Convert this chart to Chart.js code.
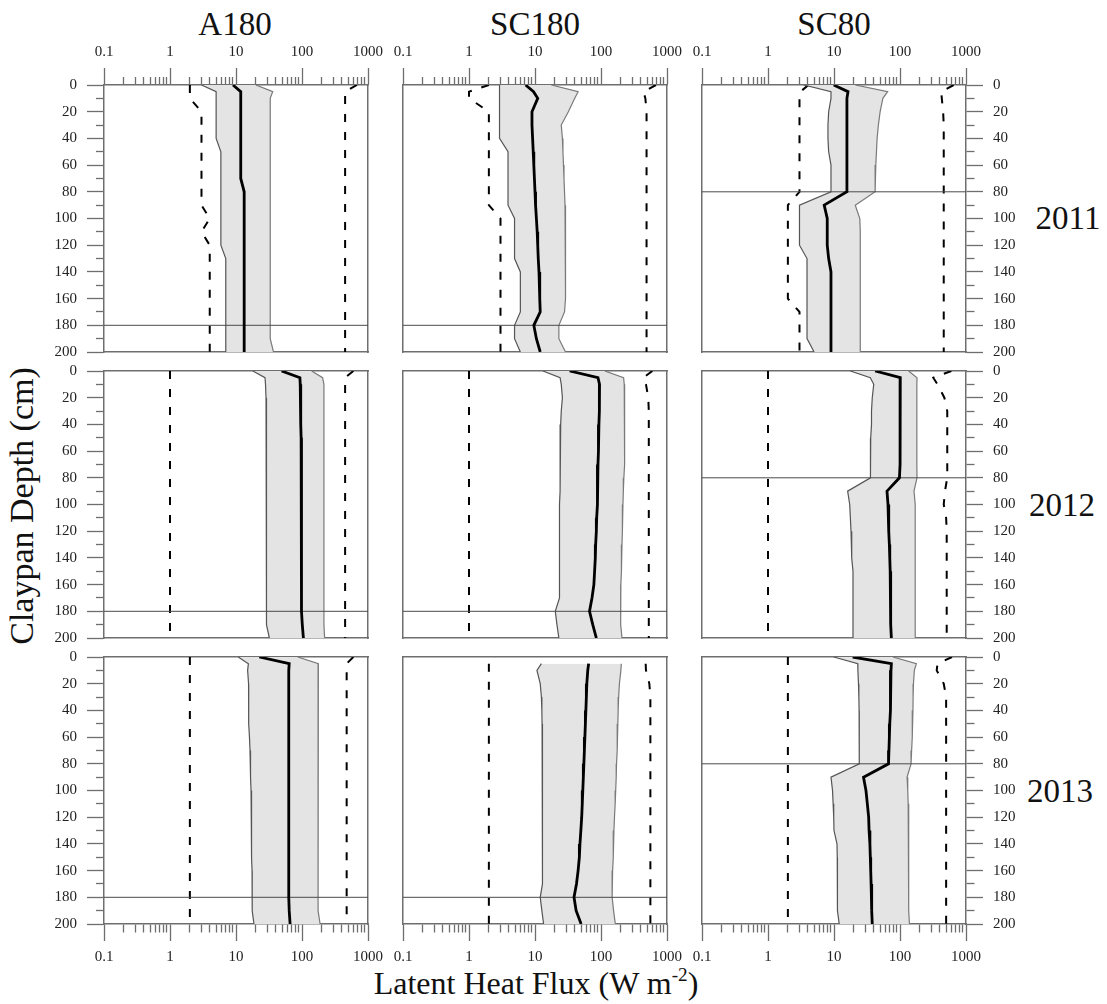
<!DOCTYPE html>
<html>
<head>
<meta charset="utf-8">
<title>Latent heat flux by claypan depth</title>
<script src="https://cdn.jsdelivr.net/npm/chart.js@4.4.1/dist/chart.umd.min.js"></script>
<style>
  body { margin: 0; background: #fff; }
  #wrap { position: relative; width: 1107px; height: 1004px; overflow: hidden; font-family: "Liberation Serif", "Times New Roman", serif; color: #111; }
  #wrap canvas { position: absolute; }
  .lbl { position: absolute; transform: translate(-50%, -50%); line-height: 1; white-space: nowrap; font-size: 33px; }
  .ytitle { transform: translate(-50%, -50%) rotate(-90deg); font-size: 34px; }
  .xtitle { font-size: 32px; }
  .xtitle sup { font-size: 0.6em; vertical-align: 0.7em; line-height: 0; }
</style>
</head>
<body>
<div id="wrap">
  <div class="lbl" style="left:235px;top:24px">A180</div>
  <div class="lbl" style="left:535px;top:24px">SC180</div>
  <div class="lbl" style="left:834px;top:24px">SC80</div>
  <div class="lbl" style="left:1068px;top:218px">2011</div>
  <div class="lbl" style="left:1062px;top:505px">2012</div>
  <div class="lbl" style="left:1060px;top:791px">2013</div>
  <div class="lbl ytitle" style="left:22px;top:506px">Claypan Depth (cm)</div>
  <div class="lbl xtitle" style="left:536px;top:983px">Latent Heat Flux (W m<sup>-2</sup>)</div>
</div>

<script>
// depth levels (cm) shared by every profile
const depths = [0, 5, 10, 20, 30, 40, 50, 60, 70, 80, 90, 100, 110, 120, 130, 140, 150, 160, 170, 180, 190, 200];

// axis ticks
const fluxDecades = [0.1, 1, 10, 100, 1000];
const fluxLabels = ['0.1', '1', '10', '100', '1000'];
const depthTicks = [0, 10, 20, 30, 40, 50, 60, 70, 80, 90, 100, 110, 120, 130, 140, 150, 160, 170, 180, 190, 200];

const sites = ['A180', 'SC180', 'SC80'];
const years = ['2011', '2012', '2013'];
const claypanDepth = [180, 180, 80];

// A180 2011
const a180_11_min = [2, 2, 2, 3, 3, 3, 3, 3, 3, 3, 3, 4, 3, 4, 4, 4, 4, 4, 4, 4, 4, 4];
const a180_11_lo = [3, 5, 5, 5, 5, 5, 5.9, 5.9, 5.9, 5.9, 5.9, 5.9, 5.9, 5.9, 7, 7, 7, 7, 7, 7, 7, 7];
const a180_11_med = [9, 11.8, 11.8, 11.8, 11.8, 11.8, 11.8, 11.8, 11.8, 13.3, 13.3, 13.3, 13.3, 13.3, 13.3, 13.3, 13.3, 13.3, 13.3, 13.3, 13.3, 13.3];
const a180_11_hi = [20, 36, 33, 33, 33, 33, 33, 33, 33, 33, 33, 33, 33, 33, 33, 33, 33, 33, 33, 33, 33, 37];
const a180_11_max = [680, 450, 450, 450, 450, 450, 450, 450, 450, 450, 450, 450, 450, 450, 450, 450, 450, 450, 450, 450, 450, 450];

// SC180 2011
const sc180_11_min = [2, 1, 1, 2, 2, 2, 2, 2, 2, 2, 2, 3, 3, 3, 3, 3, 3, 3, 3, 3, 3, 3];
const sc180_11_lo = [2.9, 2.9, 2.9, 2.9, 2.9, 2.9, 3.9, 3.9, 3.9, 3.9, 3.9, 4.9, 4.9, 4.9, 4.9, 6, 6, 6, 6, 4.9, 4.9, 6];
const sc180_11_med = [7.2, 9.5, 11, 9, 9, 9.2, 9.4, 9.6, 9.8, 10, 10.2, 10.5, 10.8, 11, 11.2, 11.5, 11.7, 11.9, 12, 9.6, 10.5, 12];
const sc180_11_hi = [17.7, 45, 40, 32, 25, 26, 26.5, 27, 27.5, 28, 28.5, 29, 29, 29, 29, 29, 29, 29, 28, 23, 23, 29];
const sc180_11_max = [680, 440, 470, 490, 490, 490, 490, 490, 490, 490, 490, 490, 490, 490, 490, 490, 490, 490, 490, 490, 490, 490];

// SC80 2011
const sc80_11_min = [4.1, 3.1, 3, 3, 3, 3, 3, 3, 3, 3, 2, 2, 2, 2, 2, 2, 2, 2, 3, 3, 3, 3];
const sc80_11_lo = [3.5, 9, 9, 8.3, 8.1, 8.1, 8.3, 9, 9, 9, 3, 3, 3, 3, 3.9, 3.9, 3.9, 3.9, 3.9, 3.9, 3.9, 5];
const sc80_11_med = [9.9, 16.3, 15.7, 15.7, 15.7, 15.7, 15.7, 15.7, 15.7, 15.7, 7.1, 7.9, 7.9, 7.9, 8.3, 9, 9, 9, 9, 9, 9, 9];
const sc80_11_hi = [21, 65, 55, 50, 47, 45, 44, 43, 42, 42, 21, 24.6, 25, 25, 25, 25, 25, 25, 25, 25, 25, 25];
const sc80_11_max = [650, 420, 430, 450, 460, 460, 460, 460, 460, 460, 460, 460, 460, 460, 460, 460, 460, 460, 460, 460, 460, 460];

// A180 2012
const a180_12_min = [1, 1, 1, 1, 1, 1, 1, 1, 1, 1, 1, 1, 1, 1, 1, 1, 1, 1, 1, 1, 1, 1];
const a180_12_lo = [18, 27.5, 28, 28.5, 29, 29, 29, 29, 29, 29, 28.5, 29, 29, 29, 29, 29, 29, 29, 29, 29, 29, 32];
const a180_12_med = [49, 93, 94, 95, 96, 96, 97, 97, 97, 98, 98, 98, 98, 98, 98, 99, 99, 99, 99, 99, 101, 105];
const a180_12_hi = [140, 205, 215, 215, 215, 215, 215, 215, 215, 215, 215, 215, 215, 215, 215, 215, 215, 215, 215, 215, 215, 220];
const a180_12_max = [600, 450, 450, 450, 450, 450, 450, 450, 450, 450, 450, 450, 450, 450, 450, 450, 450, 450, 450, 450, 450, 450];

// SC180 2012
const sc180_12_min = [1, 1, 1, 1, 1, 1, 1, 1, 1, 1, 1, 1, 1, 1, 1, 1, 1, 1, 1, 1, 1, 1];
const sc180_12_lo = [13.2, 24, 25, 26, 25, 24.5, 24, 24, 24, 24, 24, 23.5, 23.5, 23.5, 23.5, 23.5, 23.5, 23.5, 23.5, 20.3, 21.5, 23];
const sc180_12_med = [33.5, 90, 95, 95, 94, 93, 92, 91, 90, 89, 88, 88, 86, 85, 83, 82, 80, 78, 73, 67, 75, 85];
const sc180_12_hi = [114, 220, 225, 228, 228, 228, 228, 228, 228, 222, 218, 215, 212, 210, 208, 205, 203, 200, 200, 196, 200, 208];
const sc180_12_max = [600, 440, 480, 520, 530, 530, 530, 530, 530, 530, 530, 530, 530, 530, 530, 530, 530, 530, 530, 530, 530, 530];

// SC80 2012
const sc80_12_min = [1, 1, 1, 1, 1, 1, 1, 1, 1, 1, 1, 1, 1, 1, 1, 1, 1, 1, 1, 1, 1, 1];
const sc80_12_lo = [17.7, 35.5, 40, 38, 37, 37, 36, 36, 35.5, 35.5, 16.1, 17.3, 17.7, 18.1, 18.4, 18.7, 19.4, 19.4, 19.4, 19.4, 19.4, 19.4];
const sc80_12_med = [42, 101, 101, 101, 100, 100, 100, 100, 100, 98, 63.5, 65.8, 67, 68, 69, 70, 71, 71, 72, 73, 73, 74];
const sc80_12_hi = [135, 181, 180, 180, 180, 180, 180, 180, 180, 181, 163, 170, 170, 170, 170, 170, 170, 170, 170, 170, 170, 170];
const sc80_12_max = [600, 320, 370, 470, 520, 520, 520, 520, 520, 520, 480, 460, 500, 510, 510, 510, 510, 510, 510, 510, 510, 510];

// A180 2013
const a180_13_min = [2, 2, 2, 2, 2, 2, 2, 2, 2, 2, 2, 2, 2, 2, 2, 2, 2, 2, 2, 2, 2, 2];
const a180_13_lo = [10.8, 15.4, 15, 15.5, 15.5, 15.5, 15.7, 16, 16.3, 16.5, 16.7, 16.9, 17, 17.1, 17.2, 17.3, 17.4, 17.5, 17.5, 17.5, 17.8, 18.7];
const a180_13_med = [22.5, 64, 63, 63, 63, 63, 63, 63, 63, 63, 63, 63, 63, 63, 63, 63, 63, 63, 63, 63, 64, 66];
const a180_13_hi = [86, 177, 175, 175, 175, 175, 175, 175, 175, 175, 175, 175, 175, 175, 175, 175, 175, 175, 175, 175, 180, 188];
const a180_13_max = [600, 475, 475, 475, 475, 475, 475, 475, 475, 475, 475, 475, 475, 475, 475, 475, 475, 475, 475, 475, 475, 475];

// SC180 2013 (no surface value)
const sc180_13_min = [null, 2, 2, 2, 2, 2, 2, 2, 2, 2, 2, 2, 2, 2, 2, 2, 2, 2, 2, 2, 2, 2];
const sc180_13_lo = [null, 12.5, 10.7, 12, 12.5, 12.7, 12.8, 12.8, 12.9, 13, 13, 13, 13, 13, 13, 13, 13, 13, 13, 12, 12.7, 13.5];
const sc180_13_med = [null, 65, 63, 61, 60, 59, 58, 57, 56, 55, 54, 53, 52, 51, 49.5, 48, 47, 45, 42.5, 39, 42, 50];
const sc180_13_hi = [null, 203, 200, 190, 185, 182, 180, 177, 175, 172, 170, 167, 164, 160, 157, 155, 152, 150, 148, 147, 155, 165];
const sc180_13_max = [null, 475, 480, 540, 560, 560, 560, 560, 560, 560, 560, 560, 560, 560, 560, 560, 560, 560, 560, 560, 560, 560];

// SC80 2013
const sc80_13_min = [2, 2, 2, 2, 2, 2, 2, 2, 2, 2, 2, 2, 2, 2, 2, 2, 2, 2, 2, 2, 2, 2];
const sc80_13_lo = [9.9, 22.9, 23, 23.5, 23.8, 24, 24, 24.2, 24.2, 24.2, 9, 9.5, 9.7, 9.9, 10, 11.1, 11.2, 11.2, 11.3, 11.3, 11.3, 12];
const sc80_13_med = [19.2, 74, 73, 72, 72, 71, 70, 69, 68, 67, 28, 30.5, 32, 33.5, 34, 35, 35.5, 36, 36.5, 37, 37.5, 38];
const sc80_13_hi = [78, 177, 165, 160, 158, 157, 155, 152, 150, 147, 128, 131, 133, 134, 135, 135, 136, 136, 136, 136, 136, 139];
const sc80_13_max = [614, 370, 360, 460, 500, 500, 500, 500, 500, 500, 500, 500, 500, 500, 500, 500, 500, 500, 500, 500, 500, 500];

// panel grid, rows = years, cols = sites
const panels = [
  [
    {min: a180_11_min, lo: a180_11_lo, med: a180_11_med, hi: a180_11_hi, max: a180_11_max},
    {min: sc180_11_min, lo: sc180_11_lo, med: sc180_11_med, hi: sc180_11_hi, max: sc180_11_max},
    {min: sc80_11_min, lo: sc80_11_lo, med: sc80_11_med, hi: sc80_11_hi, max: sc80_11_max}
  ],
  [
    {min: a180_12_min, lo: a180_12_lo, med: a180_12_med, hi: a180_12_hi, max: a180_12_max},
    {min: sc180_12_min, lo: sc180_12_lo, med: sc180_12_med, hi: sc180_12_hi, max: sc180_12_max},
    {min: sc80_12_min, lo: sc80_12_lo, med: sc80_12_med, hi: sc80_12_hi, max: sc80_12_max}
  ],
  [
    {min: a180_13_min, lo: a180_13_lo, med: a180_13_med, hi: a180_13_hi, max: a180_13_max},
    {min: sc180_13_min, lo: sc180_13_lo, med: sc180_13_med, hi: sc180_13_hi, max: sc180_13_max},
    {min: sc80_13_min, lo: sc80_13_lo, med: sc80_13_med, hi: sc80_13_hi, max: sc80_13_max}
  ]
];

// layout of plot areas
const plotLeft = [104, 403, 702];
const plotTop = [85, 371, 657];
const plotW = 264, plotH = 267, margin = 60;

const frameColor = '#6e6e6e';

Chart.defaults.font.family = 'Liberation Serif';
Chart.defaults.font.size = 15;

// log tick positions 0.1, 0.2 ... 1000
const fluxTicks = [];
fluxDecades.slice(0, 4).forEach(function (d) {
  for (let k = 1; k <= 9; k++) fluxTicks.push(d * k);
});
fluxTicks.push(1000);

function isDecade(v) {
  return fluxDecades.indexOf(v) >= 0;
}

function toPoints(vals) {
  return depths.map(function (d, i) {
    return {x: vals[i], y: d};
  });
}

// minor ticks get a short dash next to the frame
function tickDash(isMajor) {
  return function (ctx) {
    return isMajor(ctx.tick.value) ? [] : [8, 30];
  };
}

function fluxAxis(pos, show) {
  return {
    type: 'logarithmic',
    position: pos,
    min: 0.1,
    max: 1000,
    border: {display: true, color: frameColor, width: 1.5},
    grid: {
      display: show,
      drawOnChartArea: false,
      drawTicks: true,
      tickLength: 17,
      tickColor: frameColor,
      tickWidth: 1.3,
      tickBorderDash: tickDash(isDecade),
      tickBorderDashOffset: pos === 'top' ? 29 : 0
    },
    ticks: {
      display: show,
      autoSkip: false,
      maxRotation: 0,
      padding: 7,
      color: '#222',
      callback: function (v) {
        const i = fluxDecades.indexOf(v);
        return i >= 0 ? fluxLabels[i] : '';
      }
    },
    afterBuildTicks: function (s) {
      s.ticks = fluxTicks.map(function (v) { return {value: v}; });
    },
    afterFit: function (s) { s.height = margin; }
  };
}

function depthAxis(pos, show) {
  return {
    type: 'linear',
    position: pos,
    reverse: true,
    min: 0,
    max: 200,
    border: {display: true, color: frameColor, width: 1.5},
    grid: {
      display: show,
      drawOnChartArea: false,
      drawTicks: true,
      tickLength: 17,
      tickColor: frameColor,
      tickWidth: 1.3,
      tickBorderDash: tickDash(function (v) { return v % 20 === 0; }),
      tickBorderDashOffset: pos === 'left' ? 29 : 0
    },
    ticks: {
      display: show,
      autoSkip: false,
      padding: 10,
      color: '#222',
      callback: function (v) { return v % 20 === 0 ? String(v) : ''; }
    },
    afterBuildTicks: function (s) {
      s.ticks = depthTicks.map(function (v) { return {value: v}; });
    },
    afterFit: function (s) { s.width = margin; }
  };
}

function lineSet(vals, color, width, dash) {
  return {
    data: toPoints(vals),
    xAxisID: 'xb',
    yAxisID: 'yl',
    borderColor: color,
    borderWidth: width,
    borderDash: dash || [],
    pointRadius: 0,
    fill: false
  };
}

const wrap = document.getElementById('wrap');

panels.forEach(function (rowPanels, row) {
  rowPanels.forEach(function (p, col) {
    const canvas = document.createElement('canvas');
    canvas.width = plotW + 2 * margin;
    canvas.height = plotH + 2 * margin;
    canvas.style.left = (plotLeft[col] - margin) + 'px';
    canvas.style.top = (plotTop[row] - margin) + 'px';
    canvas.setAttribute('aria-label', sites[col] + ' ' + years[row]);
    wrap.appendChild(canvas);

    const clay = claypanDepth[col];
    const band = lineSet(p.hi, '#7a7a7a', 1.2);
    band.fill = '-1';
    band.backgroundColor = '#e4e4e4';

    // index 0 draws last (on top)
    const datasets = [
      lineSet(p.med, '#000', 2.8),
      {
        data: [{x: 0.1, y: clay}, {x: 1000, y: clay}],
        xAxisID: 'xb', yAxisID: 'yl',
        borderColor: '#4a4a4a', borderWidth: 1, pointRadius: 0, fill: false
      },
      lineSet(p.lo, '#555', 1.2),
      band,
      lineSet(p.min, '#000', 2, [8, 10]),
      lineSet(p.max, '#000', 2, [8, 10])
    ];

    new Chart(canvas, {
      type: 'line',
      data: {datasets: datasets},
      options: {
        responsive: false,
        animation: false,
        indexAxis: 'y',
        layout: {padding: 0},
        plugins: {legend: {display: false}, tooltip: {enabled: false}},
        elements: {line: {tension: 0}},
        scales: {
          xt: fluxAxis('top', row === 0),
          xb: fluxAxis('bottom', row === 2),
          yl: depthAxis('left', col === 0),
          yr: depthAxis('right', col === 2)
        }
      }
    });
  });
});
</script>
</body>
</html>
